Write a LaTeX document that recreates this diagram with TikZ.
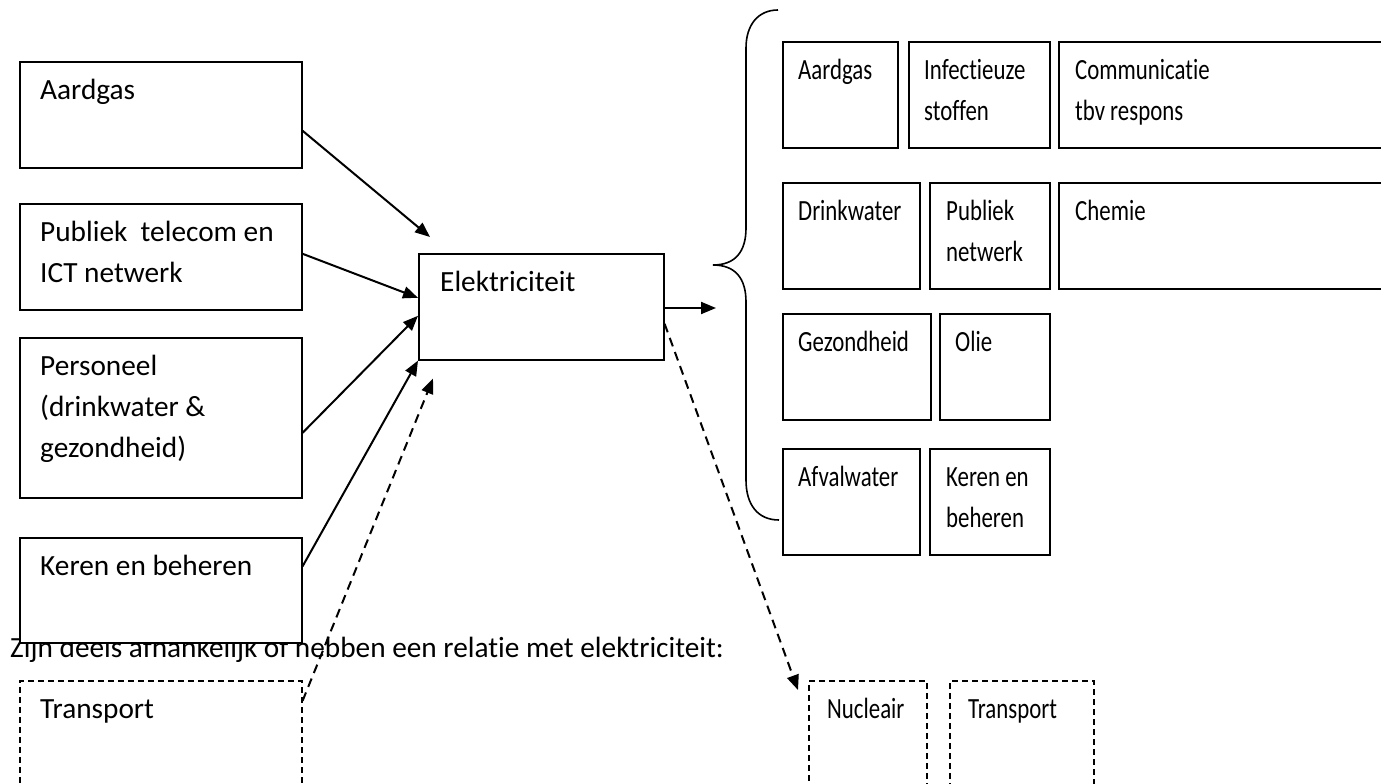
\documentclass[tikz,border=0pt]{standalone}
\usepackage{fontspec}
\setmainfont{Carlito}[Ligatures=NoCommon]
\newfontfamily\narrowsans[FakeStretch=0.78,Ligatures=NoCommon]{Carlito}
\usetikzlibrary{arrows.meta}
\begin{document}
\begin{tikzpicture}[x=1pt,y=-1pt,
  box/.style={draw, fill=white, line width=1.6pt, inner sep=0pt, anchor=north west},
  dbox/.style={box, dash pattern=on 6pt off 4pt},
  txt/.style={anchor=north west, inner sep=0pt, align=left,
    font=\fontsize{29.3}{41}\selectfont, xshift=#1, yshift=-9.3pt},
  ntxt/.style={txt=#1, font=\narrowsans\fontsize{29.3}{41}\selectfont},
  arr/.style={line width=2pt, -{Triangle[length=15pt,width=12pt]}},
  darr/.style={arr, dash pattern=on 9pt off 6pt}]
\useasboundingbox (0,0) rectangle (1381,784);
\clip (0,0) rectangle (1381,784);

\node[anchor=base west, inner sep=0pt, font=\fontsize{29.3}{41}\selectfont] (caption) at (10,657)
  {Zijn deels afhankelijk of hebben een relatie met elektriciteit:};

% suppliers on the left
\node[box, minimum width=282, minimum height=106,
  label={[txt=21pt]north west:\strut Aardgas}] (aL) at (19,61) {};
\node[box, minimum width=282, minimum height=106,
  label={[txt=21pt]north west:\strut Publiek\ \ telecom en\\ICT netwerk}] (pL) at (19,203) {};
\node[box, minimum width=282, minimum height=160,
  label={[txt=21pt]north west:\strut Personeel\\(drinkwater \&\\gezondheid)}] (perL) at (19,337) {};
\node[box, minimum width=282, minimum height=105,
  label={[txt=21pt]north west:\strut Keren en beheren}] (kL) at (19,537) {};
\node[dbox, minimum width=282, minimum height=110,
  label={[txt=21pt]north west:\strut Transport}] (tL) at (19,680) {};

% central node
\node[box, minimum width=245, minimum height=106,
  label={[txt=22pt]north west:\strut Elektriciteit}] (elek) at (418,253) {};

% dependent sectors
\node[box, minimum width=115, minimum height=106,
  label={[ntxt=16pt]north west:\strut Aardgas}] (rA) at (782,41) {};
\node[box, minimum width=141, minimum height=106,
  label={[ntxt=16pt]north west:\strut Infectieuze\\stoffen}] (rI) at (908,41) {};
\node[box, minimum width=340, minimum height=106,
  label={[ntxt=17pt]north west:\strut Communicatie\\tbv respons}] (rC) at (1058,41) {};
\node[box, minimum width=137, minimum height=106,
  label={[ntxt=16pt]north west:\strut Drinkwater}] (rD) at (782,182) {};
\node[box, minimum width=120, minimum height=106,
  label={[ntxt=17pt]north west:\strut Publiek\\netwerk}] (rP) at (929,182) {};
\node[box, minimum width=340, minimum height=106,
  label={[ntxt=17pt]north west:\strut Chemie}] (rCh) at (1058,182) {};
\node[box, minimum width=148, minimum height=106,
  label={[ntxt=16pt]north west:\strut Gezondheid}] (rG) at (782,313) {};
\node[box, minimum width=110, minimum height=106,
  label={[ntxt=16pt]north west:\strut Olie}] (rO) at (939,313) {};
\node[box, minimum width=137, minimum height=106,
  label={[ntxt=16pt]north west:\strut Afvalwater}] (rAf) at (782,448) {};
\node[box, minimum width=120, minimum height=106,
  label={[ntxt=17pt]north west:\strut Keren en\\beheren}] (rK) at (929,448) {};

% partly dependent
\node[dbox, minimum width=118, minimum height=110,
  label={[ntxt=19pt]north west:\strut Nucleair}] (nuc) at (808,680) {};
\node[dbox, minimum width=144, minimum height=110,
  label={[ntxt=19pt]north west:\strut Transport}] (tR) at (949,680) {};

% brace grouping the dependent sectors
\draw[line width=1.6pt] (778,10) .. controls (758,10) and (746,25) .. (746,48)
  -- (746,228) .. controls (746,252) and (735,265) .. (713,265)
  .. controls (735,265) and (746,278) .. (746,302)
  -- (746,480) .. controls (746,505) and (758,520) .. (779,520);
\coordinate (bracein) at (716,308);

% connectors
\draw[arr] ([yshift=-16pt]aL.east) -- ([xshift=12pt,yshift=16pt]elek.north west);
\draw[arr] ([yshift=3pt]pL.east) -- ([yshift=9pt]elek.west);
\draw[arr] ([yshift=-15pt]perL.east) -- ([yshift=-9pt]elek.west);
\draw[arr] ([yshift=24pt]kL.east) -- (elek.south west);
\draw[darr] ([yshift=35pt]tL.east) -- ([xshift=15pt,yshift=-18pt]elek.south west);
\draw[arr] (elek.east |- bracein) -- (bracein);
\draw[darr] ([yshift=-17pt]elek.east) -- ([xshift=-10pt,yshift=-10pt]nuc.north west);
\end{tikzpicture}
\end{document}
